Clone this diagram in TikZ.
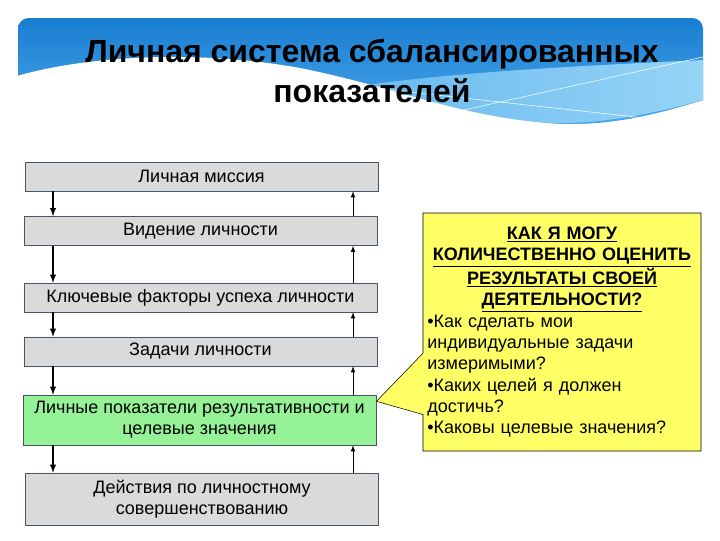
\documentclass[tikz,border=0pt]{standalone}
\usepackage{fontspec}
\setmainfont{Liberation Sans}
\usetikzlibrary{arrows,calc,positioning,shapes.callouts}

\definecolor{boxgray}{RGB}{218,218,218}
\definecolor{boxline}{RGB}{70,85,105}
\definecolor{boxgreen}{RGB}{150,242,150}
\definecolor{noteyellow}{RGB}{255,255,102}
\definecolor{bantop}{RGB}{25,125,208}
\definecolor{banbot}{RGB}{75,168,235}
\definecolor{banlight}{RGB}{150,212,246}

\tikzset{
    %Define style for boxes
    stage/.style={
        rectangle,
        draw=boxline,
        fill=boxgray,
        align=center,
        minimum width=265pt,
        minimum height=21.75pt,
        inner sep=1pt,
        font=\fontsize{13.5}{15.75}\selectfont,
    },
    goal/.style={
        stage,
        fill=boxgreen,
    },
    dnarrow/.style={
        ->, >=latex,
        line width=1.1pt,
    },
    uparrow/.style={
        ->, >=latex,
        line width=0.6pt,
    },
    note/.style={ % requires library shapes.callouts
        rectangle callout,
        draw=black,
        fill=noteyellow,
        minimum width=208.5pt,
        minimum height=178.5pt,
        text width=202pt,
        inner sep=3pt,
        callout pointer width=46pt,
        align=left,
        font=\fontsize{13.5}{16}\selectfont,
    },
    heading/.style={
        align=center,
        font=\bfseries\fontsize{24}{30}\selectfont,
    },
}

\begin{document}
\begin{tikzpicture}[x=0.75pt,y=-0.75pt]
    \useasboundingbox (0,0) rectangle (720,540);

    % banner
    \shade[top color=bantop, bottom color=banbot, rounded corners=8]
        (18,125) -- (18,18) -- (703,18) -- (703,125) -- cycle;
    \shade[left color=banbot!70!banlight, right color=banlight]
        (300,95) .. controls (430,72) and (580,66) .. (703,60) -- (703,100)
        .. controls (660,112) and (610,123) .. (560,123)
        .. controls (470,121) and (380,112) .. (300,95) -- cycle;
    \fill[white] (17,76) .. controls (90,55) and (200,50) .. (300,68)
        .. controls (400,88) and (460,118) .. (560,124)
        .. controls (620,126) and (670,110) .. (704,100) -- (704,130) -- (17,130) -- cycle;
    \draw[white, thin] (455,112) -- (703,57);
    \draw[white, thin] (300,80) -- (645,118);

    \node[heading] (title) at (372,71) {Личная система сбалансированных\\показателей};

    \node[stage] (mission) at (201.5,176.5) {Личная миссия};
    \node[stage] (vision) at (200.5,231) {Видение личности};
    \node[stage] (factors) at (200.5,297.5) {Ключевые факторы успеха личности};
    \node[stage] (tasks) at (200.5,351.5) {Задачи личности};
    \node[goal, minimum height=37.5pt] (kpi) at (199.5,420) {Личные показатели результативности и\\целевые значения};
    \node[stage, minimum height=39pt] (actions) at (202,499) {Действия по личностному\\совершенствованию};

    \coordinate (dn) at (53,0);
    \coordinate (upc) at (353,0);
    \foreach \a/\b in {mission/vision, vision/factors, factors/tasks, tasks/kpi, kpi/actions} {
        \draw[dnarrow] (\a.south -| dn) -- (\b.north -| dn);
        \draw[uparrow] (\b.north -| upc) -- (\a.south -| upc);
    }

    \coordinate (tip) at ([yshift=14pt]kpi.east);
    \node[note, callout absolute pointer={(tip)}] (ask) at (562,332) {%
        {\centering\bfseries
        \underline{КАК Я МОГУ}\\
        \underline{КОЛИЧЕСТВЕННО ОЦЕНИТЬ}\\
        \underline{РЕЗУЛЬТАТЫ СВОЕЙ}\\
        \underline{ДЕЯТЕЛЬНОСТИ?}\par}
        •Как сделать мои\\
        индивидуальные задачи\\
        измеримыми?\\
        •Каких целей я должен\\
        достичь?\\
        •Каковы целевые значения?};
\end{tikzpicture}
\end{document}
